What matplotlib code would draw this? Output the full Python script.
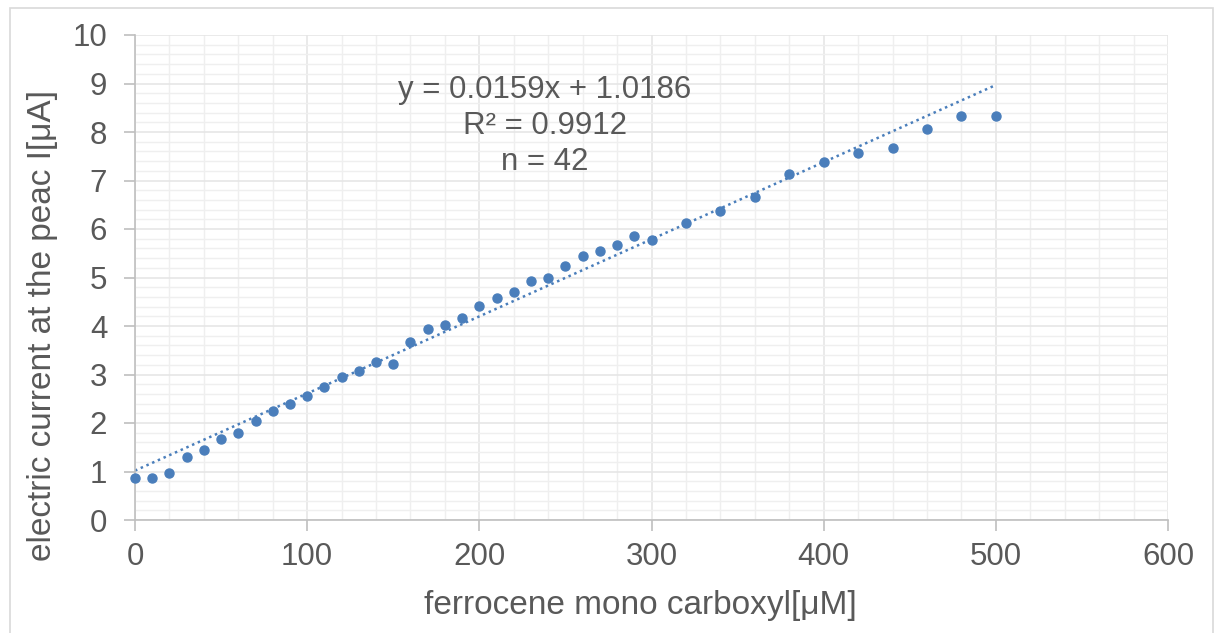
import numpy as np
import matplotlib.pyplot as plt
from matplotlib.patches import Rectangle

plt.rcParams['font.family'] = ['Liberation Sans', 'DejaVu Sans']

# concentration [uM] and peak current [uA]
conc = [0, 10, 20, 30, 40, 50, 60, 70, 80, 90, 100, 110, 120, 130, 140, 150,
        160, 170, 180, 190, 200, 210, 220, 230, 240, 250, 260, 270, 280, 290, 300,
        320, 340, 360, 380, 400, 420, 440, 460, 480, 500]
current = [0.87, 0.87, 0.96, 1.29, 1.45, 1.66, 1.79, 2.04, 2.24, 2.39, 2.56, 2.74,
           2.94, 3.07, 3.26, 3.22, 3.68, 3.94, 4.02, 4.16, 4.41, 4.58, 4.70, 4.92,
           5.00, 5.23, 5.45, 5.54, 5.67, 5.85, 5.78, 6.13, 6.37, 6.65, 7.14, 7.38,
           7.57, 7.67, 8.06, 8.32, 8.33]
slope = 0.0159
intercept = 1.0186
eq_text = "y = 0.0159x + 1.0186\nR² = 0.9912\nn = 42"

blue = '#4a7ebb'
grey_txt = '#595959'

fig = plt.figure(figsize=(12.15, 6.33), dpi=100)
# chart area border
fig.patches.append(Rectangle((10/1215, -0.01), 1203/1215, 1 - 8/633 + 0.01,
                             transform=fig.transFigure, fill=False,
                             edgecolor='#d9d9d9', linewidth=1.2))
ax = fig.add_axes([135/1215, 1 - 520/633, (1168-135)/1215, (520-35)/633])

ax.set_xlim(0, 600)
ax.set_ylim(0, 10)
ax.set_xticks(np.arange(0, 601, 100))
ax.set_yticks(np.arange(0, 11, 1))
ax.set_xticks(np.arange(0, 601, 20), minor=True)
ax.set_yticks(np.arange(0, 10.01, 0.2), minor=True)
ax.grid(True, which='major', color='#e6e6e6', linewidth=1.2)
ax.grid(True, which='minor', color='#efefef', linewidth=1.0)
ax.set_axisbelow(True)
ax.tick_params(which='minor', length=0)
ax.tick_params(which='major', length=8, width=1.2, color='#bfbfbf',
               labelsize=22.5, labelcolor=grey_txt, pad=8)
ax.tick_params(axis='y', pad=12)
for s in ['top', 'right']:
    ax.spines[s].set_visible(False)
for s in ['left', 'bottom']:
    ax.spines[s].set_color('#bfbfbf')
    ax.spines[s].set_linewidth(1.2)

xs = np.array([0, 500])
ax.plot(xs, slope * xs + intercept, linestyle=(0, (1, 1.5)), color=blue,
        linewidth=1.8, zorder=2)
ax.plot(conc, current, 'o', color=blue, markersize=6.5, zorder=3,
        clip_on=False)

ax.text(0.397, 0.812, eq_text, transform=ax.transAxes, ha='center',
        va='center', fontsize=22.5, color=grey_txt, linespacing=1.25)

ax.set_xlabel('ferrocene mono carboxyl[μM]', fontsize=24, color=grey_txt)
ax.set_ylabel('electric current at the peac I[μA]', fontsize=24,
              color=grey_txt)
ax.xaxis.set_label_coords(0.489, -0.144)
ax.yaxis.set_label_coords(-0.075, 0.402)

fig.savefig('out.png', dpi=100)
